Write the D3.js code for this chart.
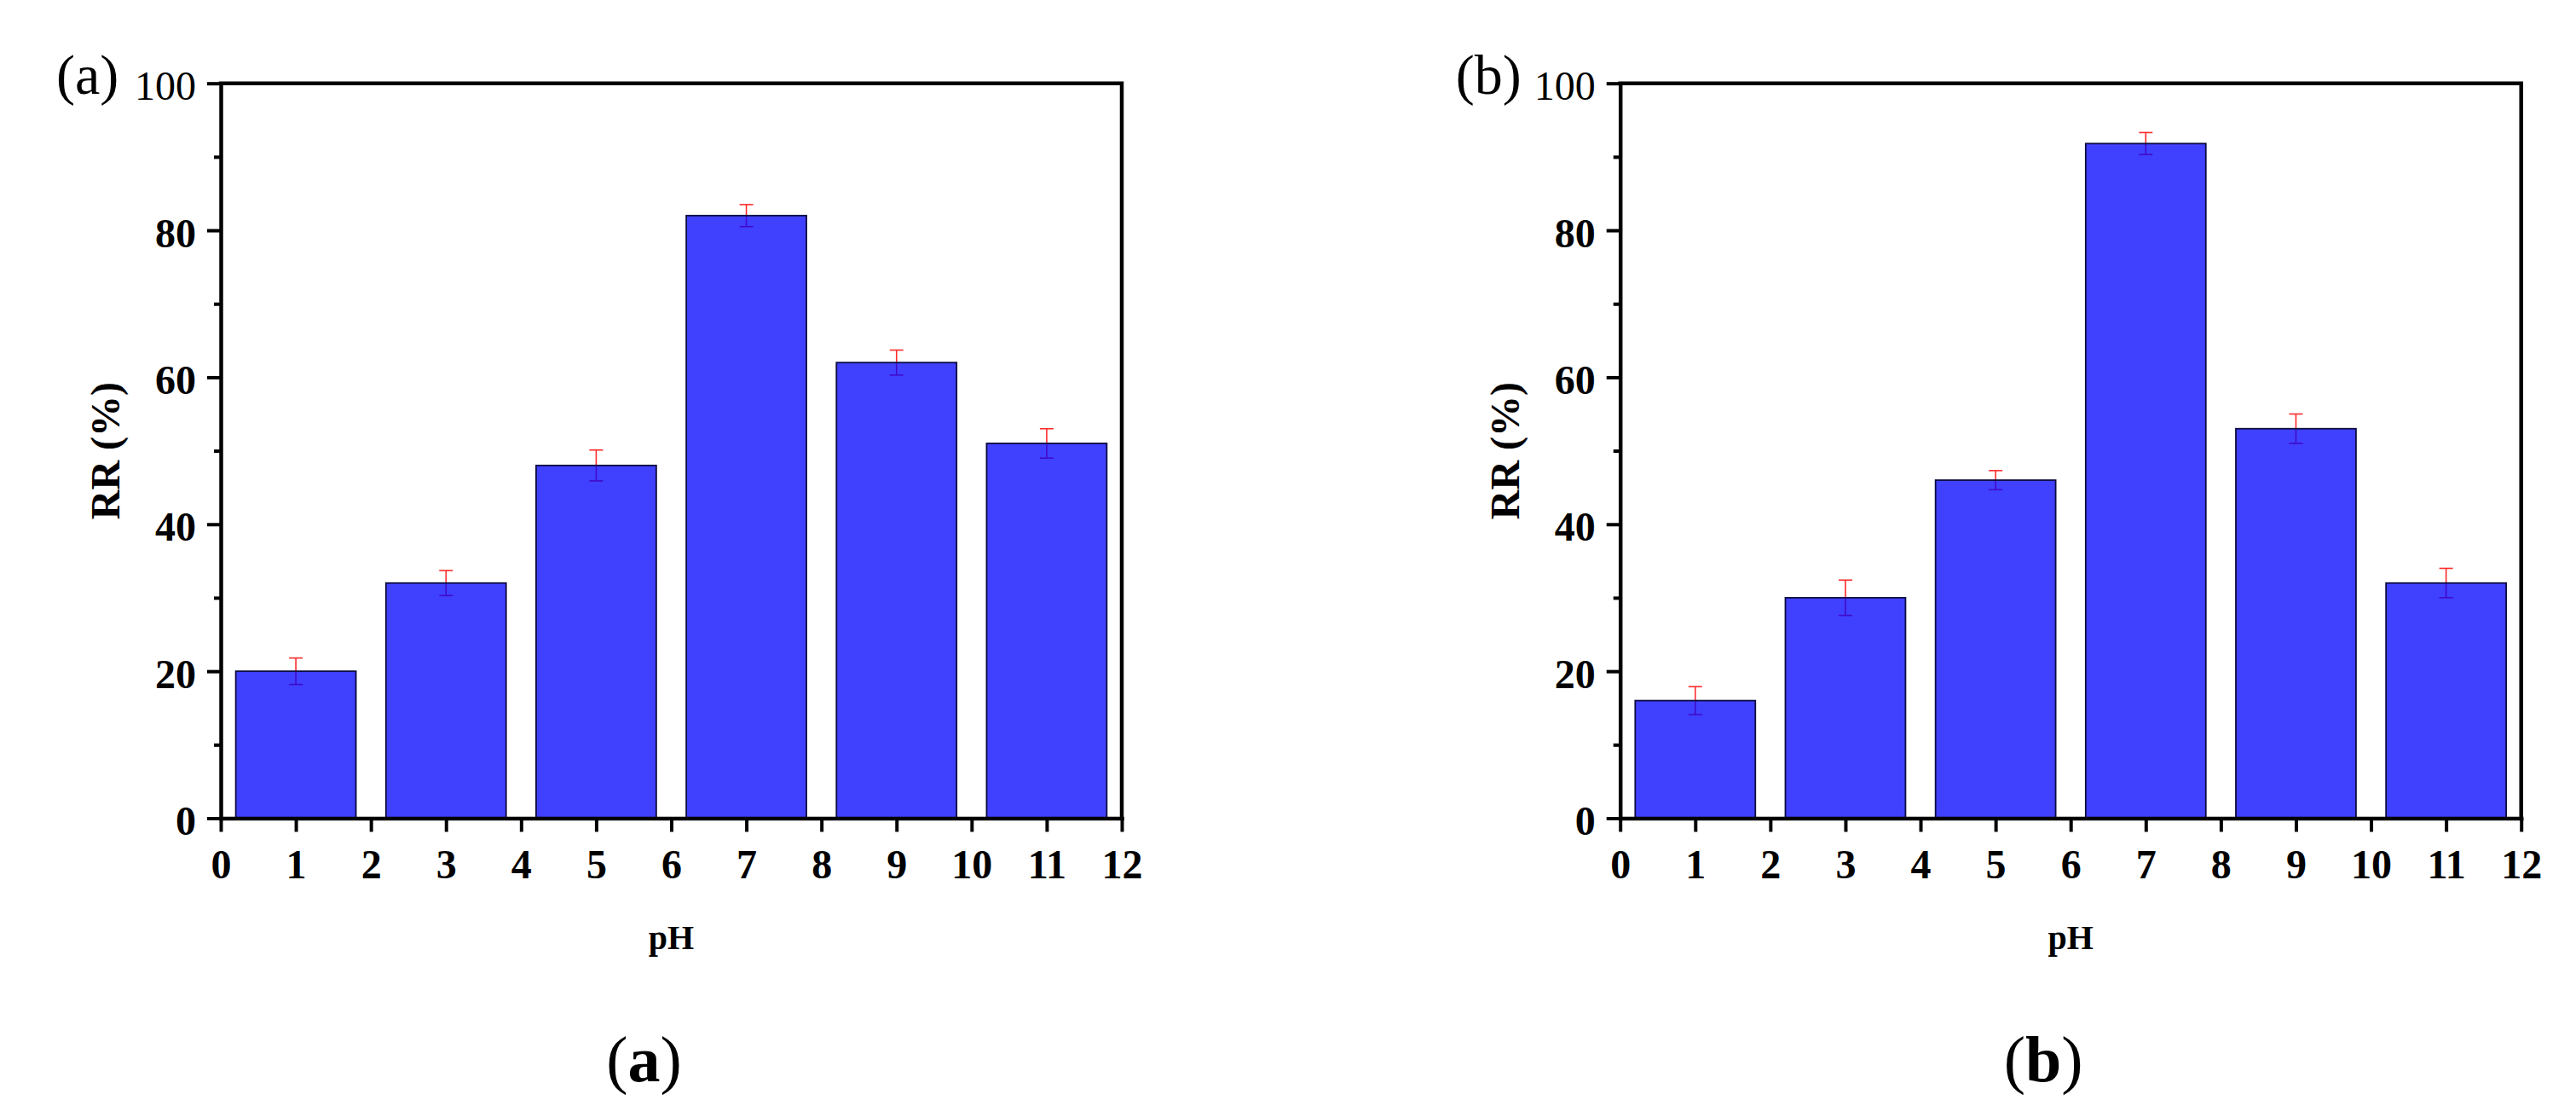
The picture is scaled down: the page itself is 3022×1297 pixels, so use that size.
<!DOCTYPE html>
<html>
<head>
<meta charset="utf-8">
<script src="https://cdn.jsdelivr.net/npm/d3@7"></script>
<style>
  body { margin: 0; background: #fff; }
  svg { display: block; font-family: "Liberation Serif", "Times New Roman", serif; }
</style>
</head>
<body>
<div id="chart"></div>
<script>
// pH values of the bars
const phValues = [1, 3, 5, 7, 9, 11];

// panel (a)
const rrA = [20, 32, 48, 82, 62, 51];
const errA = [1.8, 1.7, 2.1, 1.5, 1.7, 2.0];

// panel (b)
const rrB = [16, 30, 46, 91.8, 53, 32];
const errB = [1.9, 2.4, 1.3, 1.5, 2.0, 2.0];

// tick labels
const xTicks = [0, 1, 2, 3, 4, 5, 6, 7, 8, 9, 10, 11, 12];
const yTicks = [0, 20, 40, 60, 80, 100];
const yMinorTicks = [10, 30, 50, 70, 90];

const svg = d3
  .select("#chart")
  .append("svg")
  .attr("width", 3022)
  .attr("height", 1297);

function drawPanel(left, tag, letter, values, errors) {
  const top = 97.7;
  const bottom = 959.5;
  const width = 1057;
  const lineW = 4.5;

  const x = d3.scaleLinear().domain([0, 12]).range([left, left + width]);
  const y = d3.scaleLinear().domain([0, 100]).range([bottom, top]);

  const data = phValues.map((ph, i) => ({ ph, rr: values[i], err: errors[i] }));

  const g = svg.append("g");

  // error bars go under the bars, the bars are see-through
  const eb = g
    .selectAll(".err")
    .data(data)
    .enter()
    .append("g")
    .attr("class", "err")
    .attr("stroke", "#ff2a2a")
    .attr("stroke-width", 1.6);

  eb.append("line")
    .attr("x1", (d) => x(d.ph))
    .attr("x2", (d) => x(d.ph))
    .attr("y1", (d) => y(d.rr + d.err))
    .attr("y2", (d) => y(d.rr - d.err));

  eb.append("line")
    .attr("x1", (d) => x(d.ph) - 8)
    .attr("x2", (d) => x(d.ph) + 8)
    .attr("y1", (d) => y(d.rr + d.err))
    .attr("y2", (d) => y(d.rr + d.err));

  eb.append("line")
    .attr("x1", (d) => x(d.ph) - 8)
    .attr("x2", (d) => x(d.ph) + 8)
    .attr("y1", (d) => y(d.rr - d.err))
    .attr("y2", (d) => y(d.rr - d.err));

  // bars
  g.selectAll("rect")
    .data(data)
    .enter()
    .append("rect")
    .attr("x", (d) => x(d.ph - 0.8))
    .attr("y", (d) => y(d.rr))
    .attr("width", x(1.6) - x(0))
    .attr("height", (d) => y(0) - y(d.rr))
    .attr("fill", "#0000ff")
    .attr("fill-opacity", 0.75)
    .attr("stroke", "#0c0c40")
    .attr("stroke-width", 1.8);

  // frame top + right
  svg
    .append("path")
    .attr("d", `M${x(0)},${top}H${x(12)}V${bottom}`)
    .attr("fill", "none")
    .attr("stroke", "#000")
    .attr("stroke-width", lineW)
    .attr("stroke-linecap", "square");

  // y axis
  const yAxis = svg
    .append("g")
    .attr("transform", `translate(${left},0)`)
    .call(
      d3.axisLeft(y).tickValues(yTicks).tickSize(16).tickSizeOuter(0).tickPadding(13)
    );

  svg
    .append("g")
    .attr("transform", `translate(${left},0)`)
    .call(d3.axisLeft(y).tickValues(yMinorTicks).tickSize(8).tickSizeOuter(0).tickFormat(""))
    .call((a) => a.select(".domain").remove())
    .selectAll("line")
    .attr("stroke-width", 4);

  yAxis.select(".domain").attr("stroke-width", lineW).attr("stroke-linecap", "square");
  yAxis.selectAll(".tick line").attr("stroke-width", 4);
  yAxis
    .selectAll("text")
    .attr("dy", "0.4em")
    .style("font-family", "Liberation Serif")
    .style("font-size", "48px")
    .style("font-weight", (d) => (d === 100 ? "normal" : "bold"))
    .attr("fill", "#000");

  // x axis
  const xAxis = svg
    .append("g")
    .attr("transform", `translate(0,${bottom})`)
    .call(
      d3.axisBottom(x).tickValues(xTicks).tickSize(16).tickSizeOuter(0).tickPadding(20.5)
    );

  xAxis.select(".domain").attr("stroke-width", lineW).attr("stroke-linecap", "square");
  xAxis.selectAll(".tick line").attr("stroke-width", 4);
  xAxis
    .selectAll("text")
    .style("font-family", "Liberation Serif")
    .style("font-size", "48px")
    .style("font-weight", "bold")
    .attr("fill", "#000");

  // axis titles
  svg
    .append("text")
    .attr("transform", `translate(${left - 119},${(top + bottom) / 2}) rotate(-90)`)
    .attr("text-anchor", "middle")
    .style("font-size", "48px")
    .style("font-weight", "bold")
    .text("RR (%)");

  svg
    .append("text")
    .attr("x", left + width / 2)
    .attr("y", 1113)
    .attr("text-anchor", "middle")
    .style("font-size", "40px")
    .style("font-weight", "bold")
    .text("pH");

  // panel tag in the corner
  svg
    .append("text")
    .attr("x", left - 193)
    .attr("y", 110)
    .style("font-size", "66px")
    .text(tag);

  // caption under the panel
  const cap = svg
    .append("text")
    .attr("x", left + width / 2 - 32)
    .attr("y", 1268)
    .attr("text-anchor", "middle")
    .style("font-size", "76px");
  cap.append("tspan").text("(");
  cap.append("tspan").style("font-weight", "bold").text(letter);
  cap.append("tspan").text(")");
}

drawPanel(259, "(a)", "a", rrA, errA);
drawPanel(1900.7, "(b)", "b", rrB, errB);
</script>
</body>
</html>
